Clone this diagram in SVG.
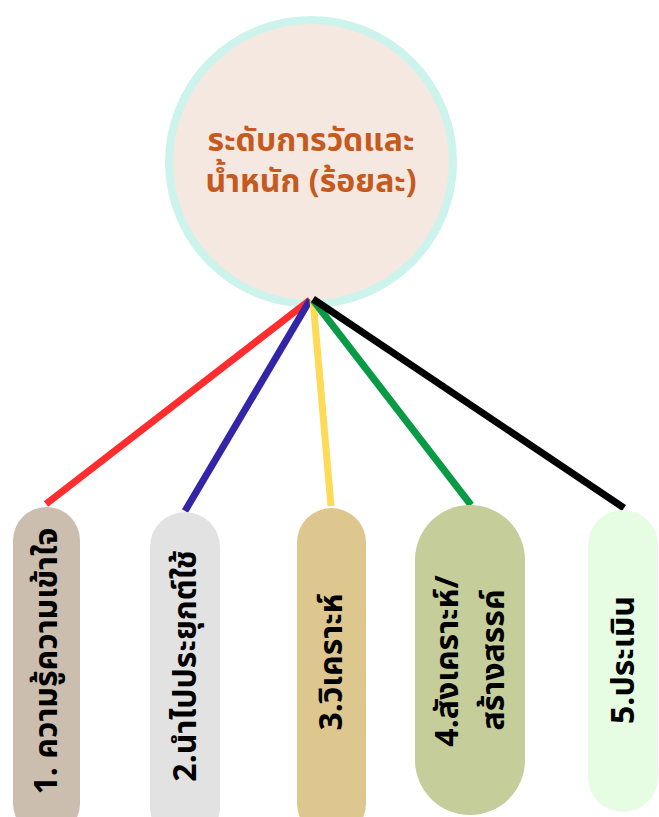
<svg xmlns="http://www.w3.org/2000/svg" width="659" height="817" viewBox="0 0 659 817">
<style>
.pill-text{font-family:"Noto Sans Thai","Noto Sans","Liberation Sans",sans-serif;font-weight:bold;font-size:32px;fill:#000;text-anchor:middle;dominant-baseline:central}
.title{font-family:"Noto Sans Thai","Noto Sans","Liberation Sans",sans-serif;font-weight:bold;font-size:32px;fill:#C55A1E;text-anchor:middle}
.conn{stroke-width:7;stroke-linecap:butt;fill:none}
</style>
<rect width="659" height="817" fill="#FFFFFF"/>
<g id="center-node">
<circle cx="311" cy="162" r="142" fill="#F5E8E1" stroke="#CCF3EC" stroke-width="8"/>
<text class="title" x="311" y="151">ระดับการวัดและ</text>
<text class="title" x="311" y="192">น้ำหนัก (ร้อยละ)</text>
</g>
<g id="connectors">
<line class="conn" x1="310" y1="300" x2="46" y2="504" stroke="#FF2D2D"/>
<line class="conn" x1="310" y1="300" x2="185" y2="511" stroke="#3325A8"/>
<line class="conn" x1="313" y1="300" x2="331" y2="506" stroke="#FFDA57"/>
<line class="conn" x1="313" y1="300" x2="471" y2="505" stroke="#089A45"/>
<line class="conn" x1="313" y1="299" x2="624" y2="508" stroke="#000000"/>
</g>
<g id="node1">
<rect x="13" y="507" width="67" height="330" rx="33.5" fill="#CBBEAF"/>
<text class="pill-text" transform="translate(47,661) rotate(-90)">1. ความรู้ความเข้าใจ</text>
</g>
<g id="node2">
<rect x="150" y="512" width="70" height="330" rx="35" fill="#E2E2E2"/>
<text class="pill-text" transform="translate(186,666) rotate(-90)">2.นำไปประยุกต์ใช้</text>
</g>
<g id="node3">
<rect x="297" y="508" width="69" height="330" rx="34.5" fill="#DEC78E"/>
<text class="pill-text" transform="translate(332,662) rotate(-90)">3.วิเคราะห์</text>
</g>
<g id="node4">
<rect x="415" y="505" width="110" height="310" rx="55" fill="#C5CD9A"/>
<text class="pill-text" transform="translate(448,661) rotate(-90)">4.สังเคราะห์/</text>
<text class="pill-text" transform="translate(494,660) rotate(-90)">สร้างสรรค์</text>
</g>
<g id="node5">
<rect x="588" y="510" width="70" height="302" rx="35" fill="#E6FCE3"/>
<text class="pill-text" transform="translate(624,660) rotate(-90)">5.ประเมิน</text>
</g>
</svg>
